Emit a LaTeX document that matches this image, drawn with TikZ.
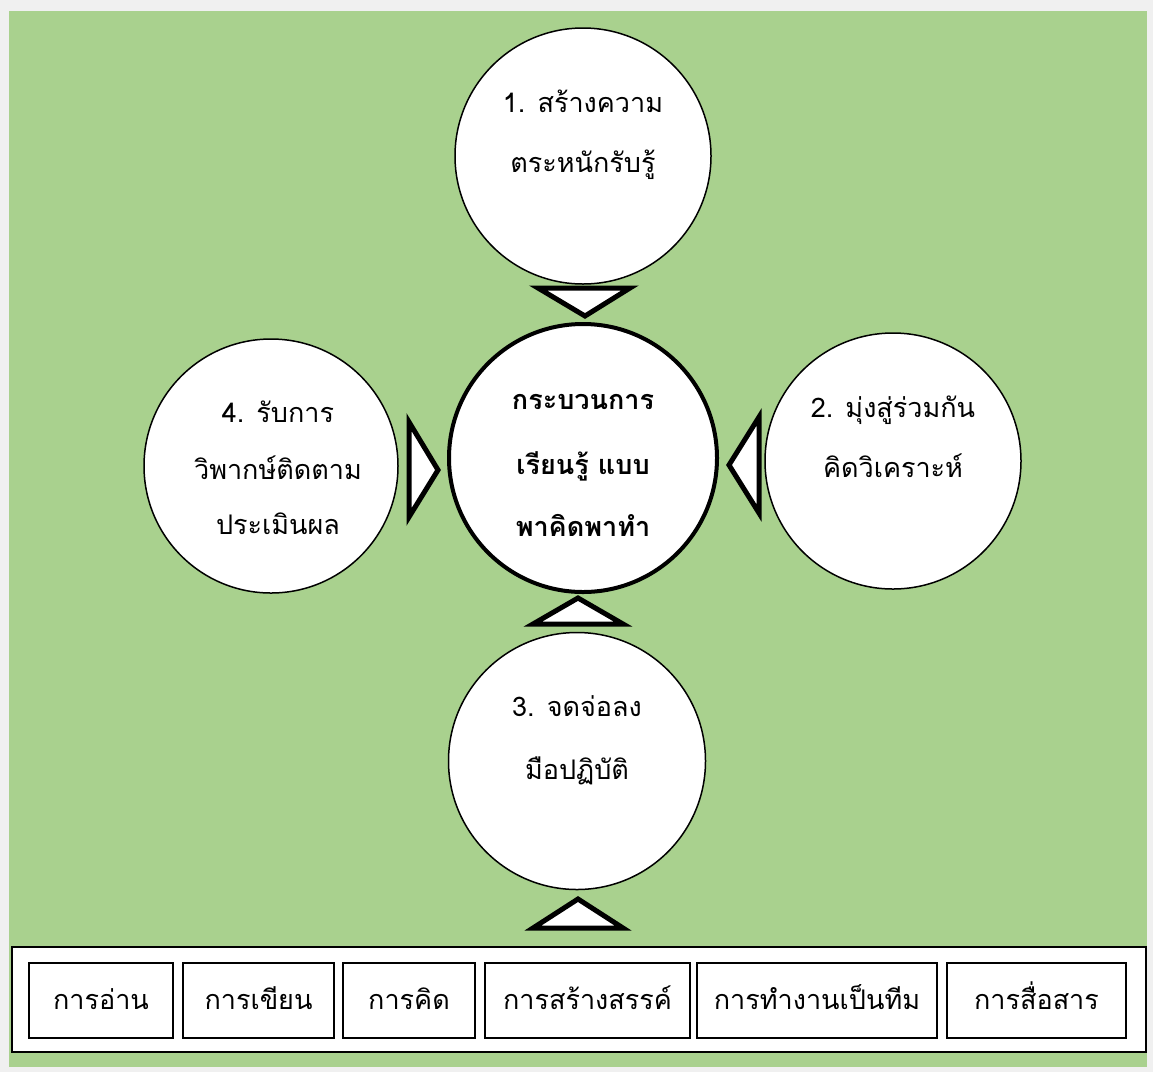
\documentclass[tikz,border=0pt]{standalone}
\usepackage{fontspec}
\newfontfamily\thaifont[Script=Thai]{Loma}
\definecolor{bggreen}{HTML}{A9D18E}
\definecolor{bggray}{HTML}{F0F0F0}
\tikzset{
  stage/.style={circle, draw=black, line width=1.5pt, fill=white, inner sep=0pt},
  hub/.style={circle, draw=black, line width=4pt, fill=white, inner sep=0pt},
  txt/.style={font=\thaifont\fontsize{27}{30}\selectfont, inner sep=0pt, anchor=center, text height=24pt, text depth=6pt},
  btxt/.style={font=\thaifont\bfseries\fontsize{27}{30}\selectfont, inner sep=0pt, anchor=center, text height=24pt, text depth=6pt},
  skill/.style={draw=black, line width=1.5pt, fill=white, inner sep=0pt},
  tri/.style={draw=black, line width=5pt, fill=white, line join=miter},
}
\begin{document}
\begin{tikzpicture}[x=1pt,y=-1pt]
\useasboundingbox (0,0) rectangle (1153,1072);
\fill[bggray] (0,0) rectangle (1153,1072);
\fill[bggreen] (9,11) rectangle (1147,1067);

% circles
\node[stage, minimum size=256pt] (c1) at (583,156) {};
\node[hub, minimum size=268pt] (hubc) at (583,458) {};
\node[stage, minimum size=254pt] (c4) at (271,466) {};
\node[stage, minimum size=256pt] (c2) at (893,461) {};
\node[stage, minimum size=257pt] (c3) at (577,761) {};

% texts
\node[txt] (t1a) at (583,103) {1. สร้างความ};
\node[txt] (t1b) at (583,163) {ตระหนักรับรู้};
\node[btxt] (tha) at (583,400) {กระบวนการ};
\node[btxt] (thb) at (583,465) {เรียนรู้ แบบ};
\node[btxt] (thc) at (583,527) {พาคิดพาทำ};
\node[txt] (t4a) at (278,413) {4. รับการ};
\node[txt] (t4b) at (278,470) {วิพากษ์ติดตาม};
\node[txt] (t4c) at (278,525) {ประเมินผล};
\node[txt] (t2a) at (893,408) {2. มุ่งสู่ร่วมกัน};
\node[txt] (t2b) at (893,468) {คิดวิเคราะห์};
\node[txt] (t3a) at (577,707) {3. จดจ่อลง};
\node[txt] (t3b) at (577,770) {มือปฏิบัติ};

% triangles
\draw[tri] (538,288) -- (630,288) -- (585,316) -- cycle;
\draw[tri] (409,422) -- (438,470) -- (409,517) -- cycle;
\draw[tri] (759,417) -- (729,465) -- (759,513) -- cycle;
\draw[tri] (578,598) -- (623,624) -- (533,624) -- cycle;
\draw[tri] (578,899) -- (623,928) -- (533,928) -- cycle;

% bottom skill bar
\node[skill, minimum width=1134pt, minimum height=105pt] (bar) at (579,999.5) {};
\node[skill, txt, minimum width=144pt, minimum height=75pt] (s1) at (101,1000.5) {การอ่าน};
\node[skill, txt, minimum width=151pt, minimum height=75pt] (s2) at (258.5,1000.5) {การเขียน};
\node[skill, txt, minimum width=132pt, minimum height=75pt] (s3) at (409,1000.5) {การคิด};
\node[skill, txt, minimum width=205pt, minimum height=75pt] (s4) at (587.5,1000.5) {การสร้างสรรค์};
\node[skill, txt, minimum width=240pt, minimum height=75pt] (s5) at (817,1000.5) {การทำงานเป็นทีม};
\node[skill, txt, minimum width=179pt, minimum height=75pt] (s6) at (1036.5,1000.5) {การสื่อสาร};
\end{tikzpicture}
\end{document}
